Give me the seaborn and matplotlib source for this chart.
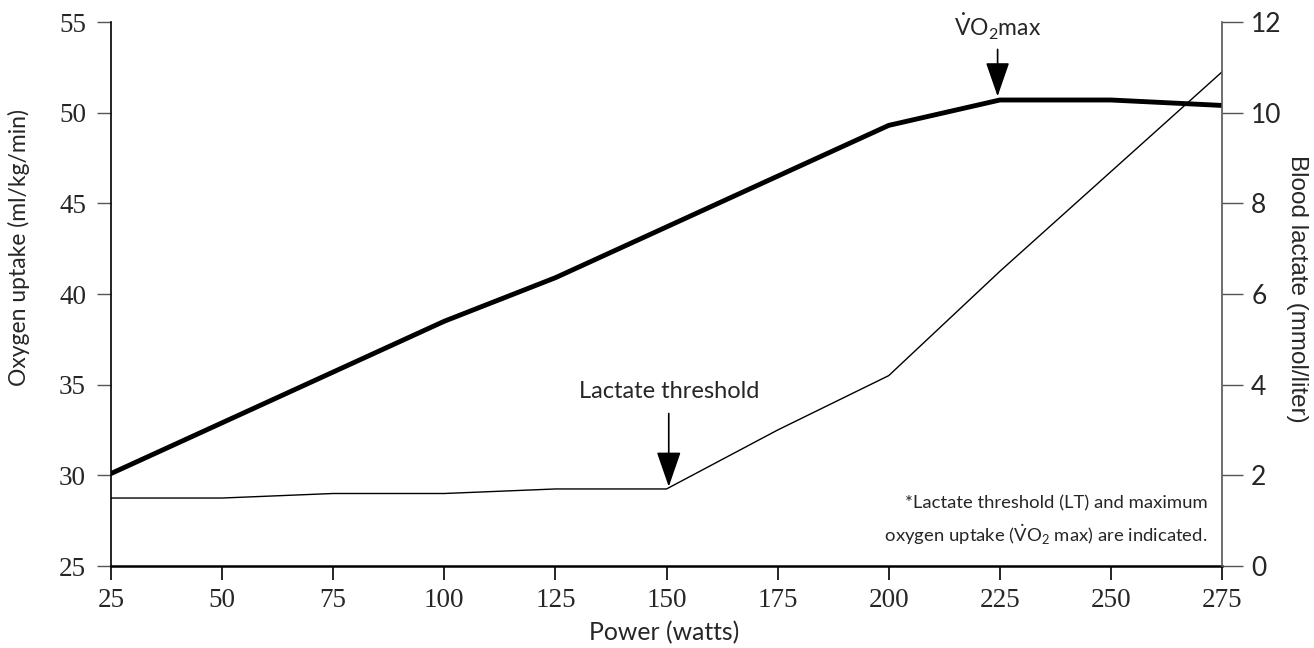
import matplotlib
matplotlib.use("Agg")
import matplotlib.pyplot as plt
import seaborn as sns
import pandas as pd

power = [25, 50, 75, 100, 125, 150, 175, 200, 225, 250, 275]
oxygen = [30.1, 32.9, 35.7, 38.5, 40.9, 43.7, 46.5, 49.3, 50.7, 50.7, 50.4]
lactate = [1.5, 1.5, 1.6, 1.6, 1.7, 1.7, 3.0, 4.2, 6.5, 8.7, 10.9]
x_ticks = [25, 50, 75, 100, 125, 150, 175, 200, 225, 250, 275]
y_left_ticks = [25, 30, 35, 40, 45, 50, 55]
y_right_ticks = [0, 2, 4, 6, 8, 10, 12]

sns.set_style("white")
plt.rcParams['font.family'] = ['Lato', 'DejaVu Sans']
plt.rcParams['mathtext.fontset'] = 'custom'
plt.rcParams['mathtext.rm'] = 'Lato'
plt.rcParams['mathtext.it'] = 'Lato:italic'

df = pd.DataFrame({"power": power, "oxygen": oxygen, "lactate": lactate})

fig = plt.figure(figsize=(13.14, 6.48), dpi=100)
ax = fig.add_axes([0.0845, 0.1265, 0.8455, 0.8395])
sns.lineplot(data=df, x="power", y="oxygen", ax=ax, color="black", linewidth=3.5)
ax.set_xlim(25, 275)
ax.set_ylim(25, 55)
ax.set_xticks(x_ticks)
ax.set_yticks(y_left_ticks)
ax2 = ax.twinx()
sns.lineplot(data=df, x="power", y="lactate", ax=ax2, color="black", linewidth=1.0)
ax2.set_ylim(0, 12)
ax2.set_yticks(y_right_ticks)
ax2.set_xlim(25, 275)

tickfont = {'family': 'Liberation Serif', 'size': 19.5}
for a in (ax, ax2):
    a.spines['top'].set_visible(False)
ax.spines['right'].set_visible(False)
ax2.spines['left'].set_visible(False)
ax2.spines['bottom'].set_visible(False)
ax.spines['left'].set_color('black')
ax.spines['bottom'].set_color('black')
ax.spines['left'].set_linewidth(1.2)
ax.spines['bottom'].set_linewidth(1.8)
ax2.spines['right'].set_color('#555555')
ax2.spines['right'].set_linewidth(1.2)

ax.tick_params(axis='x', direction='out', length=10, width=1.2, color='black', pad=6, bottom=True)
ax.tick_params(axis='y', direction='out', length=10, width=1.0, color='#555555', pad=8, left=True)
ax2.tick_params(axis='y', direction='out', length=15, width=1.0, color='#555555', pad=6, right=True)
ax.set_xticklabels([str(v) for v in x_ticks], fontdict=tickfont)
ax.set_yticklabels([str(v) for v in y_left_ticks], fontdict=tickfont)
ax2.set_yticklabels([str(v) for v in y_right_ticks], fontdict={'family': 'Lato', 'size': 19})

ax.set_xlabel("Power (watts)", fontsize=17.8)
ax.xaxis.set_label_coords(0.498, -0.123)
ax.xaxis.label.set_va('center')
ax.set_ylabel("Oxygen uptake (ml/kg/min)", fontsize=16.5)
ax.yaxis.set_label_coords(-0.083, 0.586)
ax.yaxis.label.set_va('center')
ax2.set_ylabel("Blood lactate (mmol/liter)", fontsize=17.5, rotation=-90,
               family=['Liberation Sans', 'DejaVu Sans'])
ax2.yaxis.set_label_coords(1.0675, 0.51)
ax2.yaxis.label.set_va('center')

ax2.annotate("Lactate threshold", xy=(150.5, 1.75), xytext=(150.5, 3.62),
             ha='center', va='bottom', fontsize=17,
             arrowprops=dict(arrowstyle='-|>,head_length=1.3,head_width=0.45', color='black', lw=1.2, shrinkA=6, shrinkB=0))
ax.annotate(r"$\dot{\mathrm{V}}\mathrm{O}_2$max", xy=(224.5, 50.9), xytext=(224.5, 53.9),
            ha='center', va='bottom', fontsize=16.5,
            arrowprops=dict(arrowstyle='-|>,head_length=1.3,head_width=0.45', color='black', lw=1.2, shrinkA=3, shrinkB=0))

ax2.text(0.987, 0.035, "*Lactate threshold (LT) and maximum\n oxygen uptake ($\\dot{\\mathrm{V}}\\mathrm{O}_2$ max) are indicated.",
         transform=ax2.transAxes, ha='right', va='bottom', fontsize=13.3, linespacing=1.55)

fig.savefig("out.png", dpi=100)
